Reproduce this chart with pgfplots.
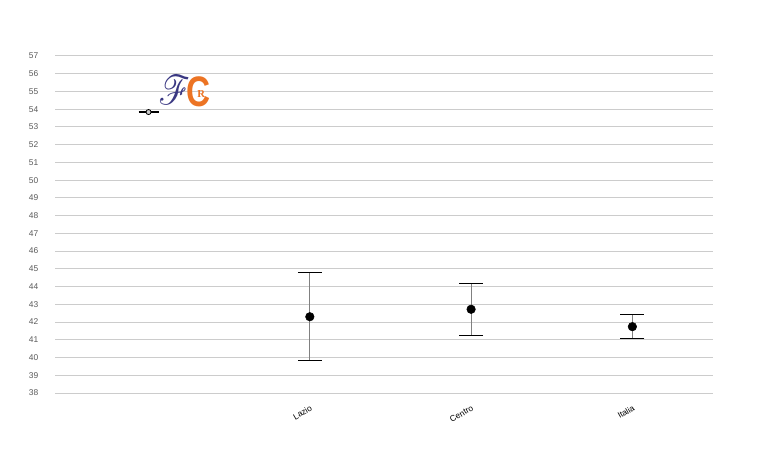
\documentclass[border=0pt]{standalone}
\usepackage{pgfplots}
\pgfplotsset{compat=1.18}
\usepackage{fontspec}
\setmainfont{Liberation Sans}
\newfontfamily\serifR{Liberation Serif}
\usepackage{mathrsfs}

\definecolor{gridc}{RGB}{204,204,204}
\definecolor{labc}{RGB}{89,89,89}
\definecolor{errc}{RGB}{128,128,128}
\definecolor{logoblue}{RGB}{58,56,130}
\definecolor{logoorange}{RGB}{236,116,36}

% x, media, errore sopra, errore sotto
\pgfplotstableread{
x y ep em
1 42.30 2.49 2.44
2 42.72 1.47 1.50
3 41.74 0.70 0.69
}\datiregioni

\begin{document}
\begin{tikzpicture}
\useasboundingbox (0,0) rectangle (579.75pt,337.5pt);
\begin{axis}[
    at={(41.25pt,42.75pt)}, anchor=south west,
    scale only axis,
    width=493.5pt, height=252.75pt,
    xmin=-0.58, xmax=3.5,
    ymin=38, ymax=57,
    ytick={38,...,57},
    xtick={1,2,3},
    xticklabels={Lazio,Centro,Italia},
    axis line style={draw=none},
    major tick length=0pt,
    ymajorgrids,
    grid style={gridc, line width=0.75pt},
    tick label style={font=\fontsize{6.3}{7}\selectfont, text=labc},
    /pgf/number format/assume math mode=true,
    yticklabel style={xshift=-9pt},
    xticklabel style={rotate=30, anchor=north east, yshift=-4pt, xshift=-1pt, text=black},
    clip=false,
  ]
  % punto isolato in alto
  \addplot[only marks, mark=*, mark size=1.9pt,
    mark options={draw=black, fill=gray!40, line width=0.6pt},
    error bars/.cd, y dir=both, y explicit,
    error bar style={draw=black, line width=0.75pt},
    error mark options={rotate=90, draw=black, mark size=7.5pt, line width=0.75pt}]
    coordinates {(0,53.84) +- (0,0.02)};

  % regioni
  \addplot[only marks, mark=*, mark size=3.2pt, black,
    error bars/.cd, y dir=both, y explicit,
    error bar style={draw=errc, line width=0.75pt},
    error mark options={rotate=90, draw=black, mark size=9pt, line width=0.75pt}]
    table[x=x, y=y, y error plus=ep, y error minus=em] {\datiregioni};

  % logo
  \node[text=logoblue, xscale=2.6, yscale=3.1, xslant=-0.22, inner sep=0pt] at (axis cs:0.16,55.1) {$\mathscr{F}$};
  \node[text=logoorange, font=\bfseries\fontsize{32}{32}\selectfont, xscale=0.78] at (axis cs:0.312,54.97) {C};
  \node[text=logoorange, font=\serifR\bfseries\fontsize{8}{8}\selectfont, inner sep=0pt] at (axis cs:0.327,54.88) {R};
\end{axis}
\end{tikzpicture}
\end{document}
